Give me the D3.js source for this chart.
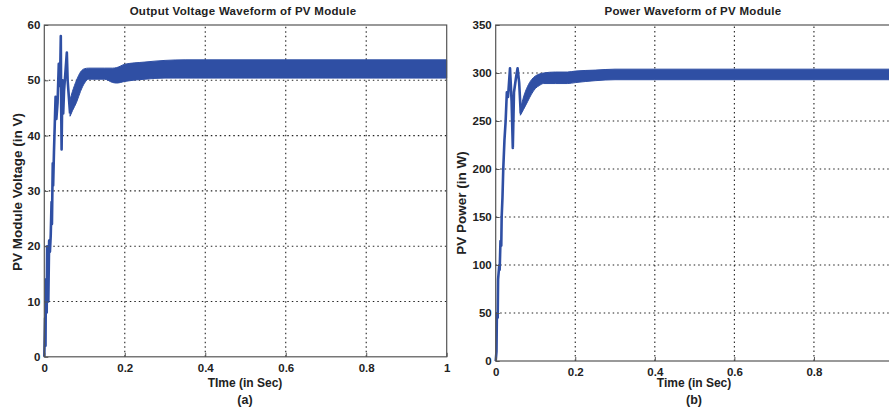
<!DOCTYPE html>
<html><head><meta charset="utf-8">
<script src="https://cdn.jsdelivr.net/npm/d3@7"></script>
<style>
html,body{margin:0;padding:0;background:#fff;overflow:hidden;}
svg{display:block;font-family:"Liberation Sans",Arial,sans-serif;}
</style></head>
<body>
<svg id="chart" width="889" height="410"></svg>
<script>
// ---------- data ----------
const timeTicks = [0, 0.2, 0.4, 0.6, 0.8, 1];
const voltageTicks = [0, 10, 20, 30, 40, 50, 60];
const powerTicks = [0, 50, 100, 150, 200, 250, 300, 350];

// Voltage: start-up transient (single trace)
const voltageTransientT = [0, 0.002, 0.003, 0.004, 0.006, 0.007, 0.010, 0.012, 0.014, 0.016, 0.018, 0.019, 0.021, 0.022, 0.024, 0.026, 0.028, 0.030, 0.033, 0.036, 0.039, 0.041, 0.042, 0.043, 0.045, 0.047, 0.049, 0.052, 0.056, 0.058, 0.060, 0.064];
const voltageTransientV = [0, 7, 2, 14, 8, 20, 10, 21, 19, 22, 28, 24, 35, 31, 37, 42, 47, 43, 46, 53, 49, 58, 45, 37.5, 50, 44, 48, 51, 55, 50, 48, 44];
// Voltage: oscillating band (envelope)
const voltageBandT = [0.064, 0.07, 0.08, 0.09, 0.10, 0.11, 0.15, 0.17, 0.18, 0.20, 0.25, 0.30, 0.35, 1.0];
const voltageBandLow = [43.5, 44.5, 46, 48, 49.5, 50.2, 50.2, 49.6, 49.5, 49.8, 50.2, 50.4, 50.4, 50.4];
const voltageBandHigh = [46.5, 48, 50, 51.5, 52.1, 52.2, 52.2, 52.2, 52.3, 52.9, 53.3, 53.6, 53.7, 53.7];

// Power: start-up transient
const powerTransientT = [0, 0.002, 0.003, 0.005, 0.006, 0.009, 0.010, 0.012, 0.014, 0.015, 0.017, 0.019, 0.022, 0.025, 0.028, 0.031, 0.036, 0.040, 0.043, 0.046, 0.051, 0.055, 0.059, 0.063];
const powerTransientP = [0, 10, 50, 45, 85, 100, 95, 125, 120, 150, 170, 200, 230, 250, 280, 275, 305, 270, 222, 280, 295, 305, 290, 258];
// Power: oscillating band (envelope)
const powerBandT = [0.062, 0.07, 0.08, 0.09, 0.10, 0.11, 0.12, 0.15, 0.18, 0.20, 0.25, 0.30, 0.40, 1.0];
const powerBandLow = [256, 262, 270, 278, 284, 287, 289, 289, 289, 290, 292, 293, 293, 293];
const powerBandHigh = [262, 275, 286, 293, 297, 299, 300, 301, 301, 302, 303, 304, 304, 304];

// ---------- drawing ----------
const svg = d3.select("#chart");
svg.append("rect").attr("width", 889).attr("height", 410).attr("fill", "#fff");
const blue = "#2f4fa4";

function panel(cfg) {
  const x = d3.scaleLinear().domain([0, 1]).range([cfg.x0, cfg.x1]);
  const y = d3.scaleLinear().domain([0, cfg.ymax]).range([cfg.y0, cfg.y1]);
  const g = svg.append("g");

  // grid
  g.selectAll(".gx").data(timeTicks.filter(d => d > 0 && d < 1)).join("line")
    .attr("x1", d => x(d)).attr("x2", d => x(d)).attr("y1", cfg.y0).attr("y2", cfg.y1)
    .attr("stroke", "#222").attr("stroke-width", 1.1).attr("stroke-dasharray", "1.5,3");
  g.selectAll(".gy").data(cfg.yTicks.filter(d => d > 0 && d < cfg.ymax)).join("line")
    .attr("x1", cfg.x0).attr("x2", cfg.x1).attr("y1", d => y(d)).attr("y2", d => y(d))
    .attr("stroke", "#222").attr("stroke-width", 1.1).attr("stroke-dasharray", "1.5,3");

  // data: band
  const band = cfg.bandT.map((t, i) => ({t, lo: cfg.bandLow[i], hi: cfg.bandHigh[i]}));
  g.append("path").datum(band)
    .attr("d", d3.area().x(d => x(d.t)).y0(d => y(d.lo)).y1(d => y(d.hi)).curve(d3.curveMonotoneX))
    .attr("fill", blue).attr("stroke", blue).attr("stroke-width", 1);
  // data: transient
  const tr = cfg.trT.map((t, i) => ({t, v: cfg.trV[i]}));
  g.append("path").datum(tr)
    .attr("d", d3.line().x(d => x(d.t)).y(d => y(d.v)))
    .attr("fill", "none").attr("stroke", blue).attr("stroke-width", 2.6).attr("stroke-linejoin", "round");

  // frame
  g.append("rect").attr("x", cfg.x0).attr("y", cfg.y1).attr("width", cfg.x1 - cfg.x0).attr("height", cfg.y0 - cfg.y1)
    .attr("fill", "none").attr("stroke", "#555").attr("stroke-width", 1.2);

  // axes
  const ax = g.append("g").attr("transform", `translate(0,${cfg.y0})`)
    .call(d3.axisBottom(x).tickValues(cfg.xLabelTicks).tickFormat(d => d === 0 || d === 1 ? String(d) : d.toFixed(1)).tickSize(-4).tickPadding(7));
  const ay = g.append("g").attr("transform", `translate(${cfg.x0},0)`)
    .call(d3.axisLeft(y).tickValues(cfg.yTicks).tickSize(-4).tickPadding(4));
  [ax, ay].forEach(a => {
    a.select(".domain").remove();
    a.selectAll(".tick line").attr("stroke", "#555");
    a.selectAll("text").attr("font-size", "11.5px").attr("font-weight", "bold").attr("fill", "#222")
      .attr("font-family", "'Liberation Sans', Arial, sans-serif");
  });

  g.append("text").attr("x", cfg.titleX).attr("y", 15).attr("text-anchor", "middle")
    .attr("font-size", "11.5px").attr("font-weight", "bold").attr("fill", "#222").attr("letter-spacing", "0.3px")
    .text(cfg.title);
  g.append("text").attr("x", cfg.xlabX).attr("y", 387).attr("text-anchor", "middle")
    .attr("font-size", "12px").attr("font-weight", "bold").attr("fill", "#222").text(cfg.xlabel);
  g.append("text").attr("x", cfg.xlabX).attr("y", 404).attr("text-anchor", "middle")
    .attr("font-size", "12.5px").attr("font-weight", "bold").attr("fill", "#222").text(cfg.sub);
  g.append("text").attr("transform", `translate(${cfg.ylabX},${cfg.ylabY}) rotate(-90)`).attr("text-anchor", "middle")
    .attr("font-size", "13.5px").attr("font-weight", "bold").attr("fill", "#222").text(cfg.ylabel);
}

panel({x0: 44.3, x1: 446.7, y0: 356.8, y1: 25, ymax: 60, yTicks: voltageTicks, xLabelTicks: timeTicks,
  bandT: voltageBandT, bandLow: voltageBandLow, bandHigh: voltageBandHigh,
  trT: voltageTransientT, trV: voltageTransientV,
  title: "Output Voltage Waveform of PV Module", titleX: 243,
  xlabel: "TIme (in Sec)", sub: "(a)", xlabX: 245,
  ylabel: "PV Module Voltage (in V)", ylabX: 22, ylabY: 192});

panel({x0: 495.7, x1: 893.5, y0: 361, y1: 25, ymax: 350, yTicks: powerTicks, xLabelTicks: timeTicks.slice(0, -1),
  bandT: powerBandT, bandLow: powerBandLow, bandHigh: powerBandHigh,
  trT: powerTransientT, trV: powerTransientP,
  title: "Power Waveform of PV Module", titleX: 693,
  xlabel: "Time (in Sec)", sub: "(b)", xlabX: 694,
  ylabel: "PV Power (in W)", ylabX: 466, ylabY: 203});
</script>
</body></html>
